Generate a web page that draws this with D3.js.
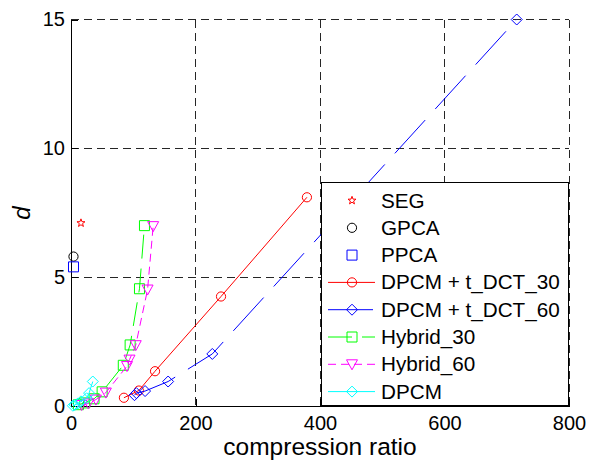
<!DOCTYPE html>
<html>
<head>
<meta charset="utf-8">
<script src="https://cdn.jsdelivr.net/npm/d3@7"></script>
<style>
  body { margin: 0; background: #fff; }
  text { font-family: "Liberation Sans", Arial, sans-serif; }
</style>
</head>
<body>
<div id="chart"></div>
<script>
// data
var xTicks = [0, 200, 400, 600, 800];
var yTicks = [0, 5, 10, 15];

var segX = [16];
var segY = [7.1];
var gpcaX = [4];
var gpcaY = [5.8];
var ppcaX = [4];
var ppcaY = [5.4];

var dct30X = [85, 109, 135, 241, 379];
var dct30Y = [0.32, 0.6, 1.35, 4.25, 8.1];

var dct60X = [102, 105, 119, 156, 227, 716];
var dct60Y = [0.42, 0.5, 0.58, 0.95, 2.02, 15.0];

var hyb30X = [12, 22, 37, 50, 84, 95, 110, 118];
var hyb30Y = [0.05, 0.12, 0.28, 0.55, 1.58, 2.37, 4.55, 7.0];

var hyb60X = [17, 28, 40, 56, 90, 94, 104, 123, 132];
var hyb60Y = [0.04, 0.1, 0.25, 0.52, 1.55, 1.8, 2.36, 4.52, 6.98];

var dpcmX = [3, 6, 11, 16, 25, 29, 35];
var dpcmY = [0.01, 0.04, 0.1, 0.18, 0.3, 0.5, 0.95];

var seriesNames = ['SEG', 'GPCA', 'PPCA', 'DPCM + t_DCT_30', 'DPCM + t_DCT_60', 'Hybrid_30', 'Hybrid_60', 'DPCM'];

function zipXY(xs, ys) {
  return xs.map((x, i) => ({x: x, y: ys[i]}));
}

// marker shapes (MATLAB style)
const markerPath = {
  star: function() {
    let p = [];
    for (let i = 0; i < 10; i++) {
      let r = i % 2 == 0 ? 4.2 : 1.7;
      let a = -Math.PI / 2 + i * Math.PI / 5;
      p.push([r * Math.cos(a), r * Math.sin(a)]);
    }
    return 'M' + p.map(d => d.join(',')).join('L') + 'Z';
  },
  circle: function() { return 'M-4.6,0A4.6,4.6 0 1,0 4.6,0A4.6,4.6 0 1,0 -4.6,0Z'; },
  square: function() { return 'M-5,-5H5V5H-5Z'; },
  diamond: function() { return 'M0,-5.5L5.5,0L0,5.5L-5.5,0Z'; },
  triangle: function() { return 'M-5.5,-4.5L5.5,-4.5L0,5.5Z'; }
};

var series = [
  {name: seriesNames[0], data: zipXY(segX, segY), color: '#ff0000', marker: 'star', line: false},
  {name: seriesNames[1], data: zipXY(gpcaX, gpcaY), color: '#000000', marker: 'circle', line: false},
  {name: seriesNames[2], data: zipXY(ppcaX, ppcaY), color: '#0000ff', marker: 'square', line: false},
  {name: seriesNames[3], data: zipXY(dct30X, dct30Y), color: '#ff0000', marker: 'circle', line: true, dash: null},
  {name: seriesNames[4], data: zipXY(dct60X, dct60Y), color: '#0000ff', marker: 'diamond', line: true, dash: '45,15'},
  {name: seriesNames[5], data: zipXY(hyb30X, hyb30Y), color: '#00ff00', marker: 'square', line: true, dash: '24,10'},
  {name: seriesNames[6], data: zipXY(hyb60X, hyb60Y), color: '#ff00ff', marker: 'triangle', line: true, dash: '8,5'},
  {name: seriesNames[7], data: zipXY(dpcmX, dpcmY), color: '#00ffff', marker: 'diamond', line: true, dash: null}
];

const W = 602, H = 462;
const margin = {top: 19.5, right: 33, bottom: 56, left: 71},
  width = W - margin.left - margin.right,
  height = H - margin.top - margin.bottom;

const svg = d3.select('#chart')
  .append('svg')
  .attr('width', W)
  .attr('height', H);

const g = svg.append('g')
  .attr('transform', `translate(${margin.left},${margin.top})`);

const x = d3.scaleLinear().domain([0, 800]).range([0, width]);
const y = d3.scaleLinear().domain([0, 15]).range([height, 0]);

// dashed grid
g.append('g').selectAll('line')
  .data(xTicks.slice(1))
  .join('line')
  .attr('x1', d => x(d)).attr('x2', d => x(d))
  .attr('y1', 0).attr('y2', height)
  .attr('stroke', '#262626').attr('stroke-dasharray', '8,5')
  .attr('shape-rendering', 'crispEdges');
g.append('g').selectAll('line')
  .data(yTicks.slice(1))
  .join('line')
  .attr('x1', 0).attr('x2', width)
  .attr('y1', d => y(d)).attr('y2', d => y(d))
  .attr('stroke', '#262626').attr('stroke-dasharray', '8,5')
  .attr('shape-rendering', 'crispEdges');

// axes, ticks inside
const xAxis = g.append('g')
  .attr('transform', `translate(0,${height})`)
  .call(d3.axisBottom(x).tickValues(xTicks).tickSizeInner(-7).tickSizeOuter(0).tickPadding(10));
const yAxis = g.append('g')
  .call(d3.axisLeft(y).tickValues(yTicks).tickSizeInner(-7).tickSizeOuter(0).tickPadding(6));

[xAxis, yAxis].forEach(a => {
  a.selectAll('text').style('font-size', '20px').attr('fill', '#000')
    .style('font-family', '"Liberation Sans", Arial, sans-serif');
  a.selectAll('line').attr('stroke', '#000').attr('shape-rendering', 'crispEdges');
  a.select('.domain').attr('stroke', '#000').attr('shape-rendering', 'crispEdges');
});

// series
const line = d3.line().x(d => x(d.x)).y(d => y(d.y));

series.forEach(s => {
  if (s.line) {
    g.append('path')
      .datum(s.data)
      .attr('d', line)
      .attr('fill', 'none')
      .attr('stroke', s.color)
      .attr('stroke-width', 1)
      .attr('stroke-dasharray', s.dash);
  }
  g.append('g').selectAll('path')
    .data(s.data)
    .join('path')
    .attr('transform', d => `translate(${x(d.x)},${y(d.y)})`)
    .attr('d', markerPath[s.marker]())
    .attr('fill', 'none')
    .attr('stroke', s.color)
    .attr('stroke-width', 1);
});

// legend box
const legX = 321 - margin.left, legY = 182 - margin.top, legW = 247, legH = 223;
const leg = g.append('g').attr('transform', `translate(${legX},${legY})`);
leg.append('rect')
  .attr('width', legW).attr('height', legH)
  .attr('fill', '#fff').attr('stroke', '#000').attr('stroke-width', 1)
  .attr('shape-rendering', 'crispEdges');

const rowStep = 27.3;
series.forEach((s, i) => {
  const ry = 18.5 + i * rowStep;
  const row = leg.append('g').attr('transform', `translate(0,${ry})`);
  if (s.line) {
    row.append('line')
      .attr('x1', 7).attr('x2', 54)
      .attr('stroke', s.color)
      .attr('stroke-dasharray', s.dash);
  }
  row.append('path')
    .attr('transform', 'translate(31,0)')
    .attr('d', markerPath[s.marker]())
    .attr('fill', 'none')
    .attr('stroke', s.color);
  row.append('text')
    .attr('x', 60).attr('y', 7)
    .style('font-size', '20.7px')
    .text(s.name);
});

// axis labels
svg.append('text')
  .attr('x', margin.left + width / 2).attr('y', 455)
  .attr('text-anchor', 'middle')
  .style('font-size', '24.5px')
  .text('compression ratio');

svg.append('text')
  .attr('transform', 'translate(30,213) rotate(-90)')
  .attr('text-anchor', 'middle')
  .style('font-size', '24px')
  .style('font-style', 'italic')
  .text('d');
</script>
</body>
</html>
